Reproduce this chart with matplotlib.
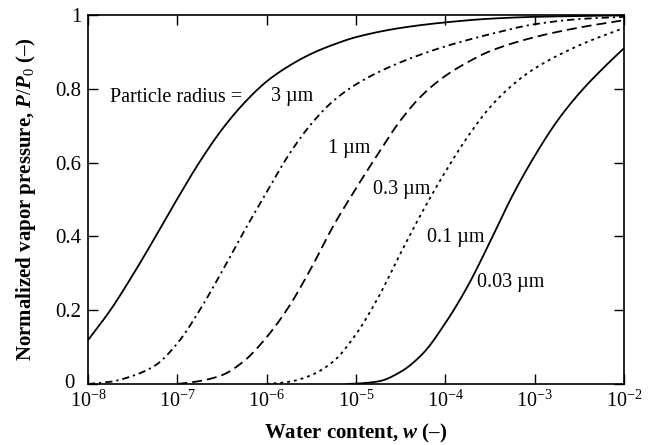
import numpy as np
import matplotlib
matplotlib.use("Agg")
import matplotlib.pyplot as plt
from matplotlib.transforms import blended_transform_factory, ScaledTranslation

plt.rcParams['font.family'] = ['Liberation Serif', 'DejaVu Serif']
plt.rcParams['mathtext.fontset'] = 'custom'
plt.rcParams['mathtext.rm'] = 'Liberation Serif'
plt.rcParams['mathtext.it'] = 'Liberation Serif:italic:bold'
plt.rcParams['mathtext.bf'] = 'Liberation Serif:bold'

# data: log10(water content) and normalized vapor pressure P/P0
r3_logw = [-8.0, -7.75, -7.5, -7.25, -7.0, -6.75, -6.5, -6.25, -6.0, -5.75, -5.5, -5.25, -5.0, -4.5, -4.0, -3.5, -3.0, -2.0]
r3_p    = [0.119, 0.20, 0.295, 0.397, 0.502, 0.602, 0.69, 0.762, 0.82, 0.862, 0.895, 0.92, 0.94, 0.965, 0.98, 0.99, 0.995, 0.999]

r1_logw = [-8.0, -7.75, -7.5, -7.25, -7.0, -6.75, -6.5, -6.25, -6.0, -5.75, -5.5, -5.25, -5.0, -4.75, -4.5, -4.25, -4.0, -3.5, -3.0, -2.5, -2.0]
r1_p    = [0.0, 0.006, 0.022, 0.05, 0.11, 0.20, 0.305, 0.415, 0.52, 0.622, 0.705, 0.768, 0.812, 0.845, 0.872, 0.895, 0.915, 0.948, 0.975, 0.989, 0.995]

r03_logw = [-7.0, -6.75, -6.5, -6.25, -6.0, -5.75, -5.5, -5.25, -5.0, -4.75, -4.5, -4.25, -4.0, -3.75, -3.5, -3.0, -2.5, -2.0]
r03_p    = [0.0, 0.008, 0.024, 0.063, 0.127, 0.21, 0.315, 0.43, 0.53, 0.625, 0.715, 0.785, 0.835, 0.872, 0.902, 0.94, 0.966, 0.986]

r01_logw = [-6.0, -5.75, -5.5, -5.25, -5.0, -4.75, -4.5, -4.25, -4.0, -3.75, -3.5, -3.25, -3.0, -2.5, -2.0]
r01_p    = [0.0, 0.006, 0.024, 0.062, 0.135, 0.235, 0.355, 0.47, 0.575, 0.67, 0.75, 0.81, 0.855, 0.918, 0.965]

r003_logw = [-5.1, -5.0, -4.75, -4.5, -4.25, -4.0, -3.75, -3.5, -3.25, -3.0, -2.75, -2.5, -2.25, -2.0]
r003_p    = [0.0, 0.001, 0.007, 0.033, 0.083, 0.165, 0.265, 0.385, 0.51, 0.618, 0.712, 0.788, 0.852, 0.91]

xtick_vals = [1e-8, 1e-7, 1e-6, 1e-5, 1e-4, 1e-3, 1e-2]
xtick_labels = [r'$10^{-8}$', r'$10^{-7}$', r'$10^{-6}$', r'$10^{-5}$', r'$10^{-4}$', r'$10^{-3}$', r'$10^{-2}$']
ytick_vals = [0, 0.2, 0.4, 0.6, 0.8, 1.0]
ytick_labels = ['0', '0.2', '0.4', '0.6', '0.8', '1']

curve_labels = ['3 µm', '1 µm', '0.3 µm', '0.1 µm', '0.03 µm']

fig = plt.figure(figsize=(6.58, 4.45), dpi=100)
ax = fig.add_axes([88/658, 1-384/445, (624-88)/658, (384-15)/445])


def pchip(lx, p, n=400):
    lx = np.asarray(lx, float); p = np.asarray(p, float)
    xs = np.linspace(lx[0], lx[-1], n)
    h = np.diff(lx); d = np.diff(p) / h
    m = np.zeros_like(p)
    m[0] = d[0]; m[-1] = d[-1]
    for i in range(1, len(p) - 1):
        if d[i-1] * d[i] <= 0:
            m[i] = 0
        else:
            w1 = 2*h[i] + h[i-1]; w2 = h[i] + 2*h[i-1]
            m[i] = (w1 + w2) / (w1/d[i-1] + w2/d[i])
    idx = np.clip(np.searchsorted(lx, xs) - 1, 0, len(lx) - 2)
    t = (xs - lx[idx]) / h[idx]
    h00 = 2*t**3 - 3*t**2 + 1; h10 = t**3 - 2*t**2 + t
    h01 = -2*t**3 + 3*t**2; h11 = t**3 - t**2
    ys = h00*p[idx] + h10*h[idx]*m[idx] + h01*p[idx+1] + h11*h[idx]*m[idx+1]
    return 10**xs, ys


lw = 1.3
series = [(r3_logw, r3_p, '-'),
          (r1_logw, r1_p, (0, (4, 2.2, 1.2, 2.2))),
          (r03_logw, r03_p, (0, (5.5, 2.8))),
          (r01_logw, r01_p, (0, (1.6, 2.2))),
          (r003_logw, r003_p, '-')]
for lx, p, ls in series:
    x, y = pchip(lx, p)
    ax.plot(x, y, color='black', lw=lw, linestyle=ls, solid_capstyle='butt')

ax.set_xscale('log')
ax.set_xlim(1e-8, 1e-2)
ax.set_ylim(0, 1)
ax.set_xticks(xtick_vals)
ax.set_xticklabels(xtick_labels)
ax.xaxis.set_minor_locator(matplotlib.ticker.NullLocator())
ax.set_yticks(ytick_vals)
ax.set_yticklabels([''] + ytick_labels[1:])
ax.tick_params(direction='in', length=7.5, width=1, top=True, right=True, pad=5)
ax.tick_params(axis='y', labelsize=15, pad=5)
ax.tick_params(axis='x', labelsize=14.5, pad=5)
for s in ax.spines.values():
    s.set_linewidth(1.2)

# "0" tick label drawn separately, nudged left as in the reference
trans = blended_transform_factory(ax.transAxes, ax.transData) + ScaledTranslation(-13/100, 0, fig.dpi_scale_trans)
ax.text(0, ytick_vals[0], ytick_labels[0], transform=trans, fontsize=15, ha='right', va='center')

ax.set_xlabel(r'Water content, $w$ (–)', fontsize=15, fontweight='bold', labelpad=7)
ax.set_ylabel(r'Normalized vapor pressure, $P/P_0$ (–)', fontsize=15, fontweight='bold', labelpad=12)

fs = 14.5


def px(xp, yp):
    return xp/658, 1 - yp/445


ax.annotate('Particle radius =', xy=px(110, 97), xycoords='figure fraction', fontsize=fs, va='center', ha='left')
label_pos = [(271, 97), (328, 148), (373, 190), (427, 237), (477, 283)]
for txt, (xp, yp) in zip(curve_labels, label_pos):
    ax.annotate(txt, xy=px(xp, yp), xycoords='figure fraction', fontsize=fs, va='center', ha='left')

fig.savefig('out.png', dpi=100)
